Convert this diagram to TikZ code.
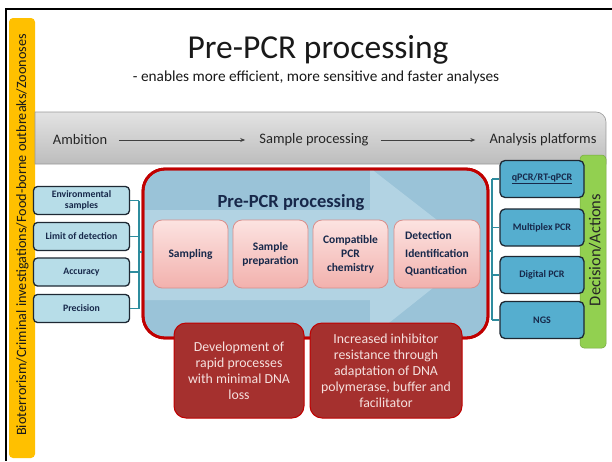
\documentclass[tikz,border=0pt]{standalone}
\usepackage{fontspec}
\setmainfont{Carlito}
\usetikzlibrary{arrows.meta}

\definecolor{barorange}{HTML}{FFC000}
\definecolor{bargreen}{HTML}{92D050}
\definecolor{navy}{HTML}{17284A}
\definecolor{lightblue}{HTML}{B7DDE8}
\definecolor{midblue}{HTML}{55AECF}
\definecolor{linkteal}{HTML}{2E8C9E}
\definecolor{panelblue}{HTML}{9AC3D8}
\definecolor{arrowblue}{HTML}{C3DFEB}
\definecolor{crimson}{HTML}{C00000}
\definecolor{pinktop}{HTML}{FCE3E1}
\definecolor{pinkbot}{HTML}{F2B1AD}
\definecolor{pinkedge}{HTML}{D98E8B}
\definecolor{darkred}{HTML}{A5302E}
\definecolor{palepink}{HTML}{F5E1DF}
\definecolor{boxedge}{HTML}{1E2833}

\tikzset{
  sidebox/.style={draw=boxedge, line width=1.3pt, fill=lightblue, rounded corners=4pt,
    minimum width=96pt, minimum height=28pt, align=center, text=navy,
    font=\bfseries\fontsize{9.8}{11}\selectfont, inner sep=1pt},
  platbox/.style={draw=boxedge, line width=1.3pt, fill=midblue, rounded corners=5pt,
    minimum width=84pt, minimum height=37pt, align=center, text=navy,
    font=\bfseries\fontsize{10}{12}\selectfont, inner sep=1pt},
  stagebox/.style={draw=pinkedge, line width=0.8pt, top color=pinktop, bottom color=pinkbot,
    rounded corners=9pt, minimum height=68pt, align=center, text=navy,
    font=\bfseries\fontsize{11.5}{14}\selectfont, inner sep=2pt},
  goalbox/.style={draw=crimson, line width=1pt, fill=darkred, rounded corners=12pt,
    minimum height=95pt, align=center, text=palepink,
    font=\fontsize{13.8}{16}\selectfont, inner sep=2pt},
  link/.style={draw=linkteal, line width=1.2pt},
  flowarrow/.style={draw=black!75, line width=0.8pt, -{Stealth[length=5pt,width=4pt]}},
  bannertext/.style={text=black!85, font=\fontsize{14.5}{16}\selectfont, inner sep=0pt}
}

\begin{document}
\begin{tikzpicture}[x=1pt,y=-1pt]
\useasboundingbox (0,0) rectangle (612,461);
\fill[white] (0,0) rectangle (612,461);

% outer frame (top and left edges)
\draw[line width=2.5pt, black] (612,9) -- (6,9) -- (6,461);

% orange side bar with rotated caption
\node[fill=barorange, rounded corners=4pt, minimum width=26pt, minimum height=440pt, inner sep=0pt] (sidebar) at (22,238) {};
\node[rotate=90, font=\fontsize{14.2}{15}\selectfont, text=black!90] (sidecaption) at (22.5,235)
  {Bioterrorism/Criminal investigations/Food-borne outbreaks/Zoonoses};

% title block
\node[font=\fontsize{33.5}{36}\selectfont, text=black!90] (title) at (318,50) {Pre-PCR processing};
\node[font=\fontsize{15.3}{17}\selectfont, text=black!90] (subtitle) at (316,77)
  {- enables more efficient, more sensitive and faster analyses};

% grey workflow banner, rounded at its top right corner
\shade[top color=black!11, bottom color=black!26, draw=black!40, line width=0.6pt]
  (35,164) -- (35,112) -- (596,112) arc[start angle=-90, end angle=0, radius=10] -- (606,164) -- cycle;
\node[bannertext] (ambition) at (80,140) {Ambition};
\node[bannertext] (sampleproc) at (314,140) {Sample processing};
\node[bannertext] (platforms) at (543,140) {Analysis platforms};
\draw[flowarrow] ([xshift=12pt]ambition.east) -- ([xshift=-14pt]sampleproc.west);
\draw[flowarrow] ([xshift=12pt]sampleproc.east) -- ([xshift=-14pt]platforms.west);

% green decision bar
\node[fill=bargreen, draw=bargreen!80!black, line width=0.5pt, rounded corners=4pt,
  minimum width=26pt, minimum height=193pt, inner sep=0pt] (decision) at (593,251.5) {};
\node[rotate=90, font=\fontsize{16.5}{18}\selectfont, text=black!85] (decisioncap) at (595,250) {Decision/Actions};

% main processing panel with the pale flow arrow inside
\node[draw=crimson, line width=2.8pt, fill=panelblue, rounded corners=22pt,
  minimum width=345pt, minimum height=169pt, inner sep=0pt] (panel) at (315.5,253.5) {};
\begin{scope}
  \clip[rounded corners=21pt] (144.5,170.5) rectangle (486.5,336.5);
  \fill[arrowblue, opacity=0.6] (144,210) -- (370,210) -- (370,168) -- (478,252)
     -- (370,338) -- (370,300) -- (144,300) -- cycle;
\end{scope}
\draw[crimson, line width=2.8pt, rounded corners=22pt] (143,169) rectangle (488,338);
\node[font=\bfseries\fontsize{18.5}{20}\selectfont, text=navy] (paneltitle) at (291,203) {Pre-PCR processing};

% process stages
\node[stagebox, minimum width=75pt] (sampling) at (190.5,254) {Sampling};
\node[stagebox, minimum width=75pt] (prep) at (270.5,254) {Sample\\preparation};
\node[stagebox, minimum width=75pt] (chem) at (350.5,254) {Compatible\\PCR\\chemistry};
\node[stagebox, minimum width=86pt, align=left, font=\bfseries\fontsize{11.5}{17.5}\selectfont] (detect) at (437,254)
  {Detection\\Identification\\Quantication};

% development goals
\node[goalbox, minimum width=130pt] (goalrapid) at (239,370.5)
  {Development of\\rapid processes\\with minimal DNA\\loss};
\node[goalbox, minimum width=152pt] (goalinhib) at (386,370.5)
  {Increased inhibitor\\resistance through\\adaptation of DNA\\polymerase, buffer and\\facilitator};

% requirement boxes on the left
\node[sidebox] (env) at (81.5,200.5) {Environmental\\samples};
\node[sidebox] (lod) at (81.5,236.5) {Limit of detection};
\node[sidebox] (acc) at (81.5,272) {Accuracy};
\node[sidebox] (prec) at (81.5,308.5) {Precision};

\coordinate (lbus) at (139,252);
\draw[link] (env.east) -- (env.east -| lbus);
\draw[link] (lod.east) -- (lod.east -| lbus);
\draw[link] (acc.east) -- (acc.east -| lbus);
\draw[link] (prec.east) -- (prec.east -| lbus);
\draw[link] (env.east -| lbus) -- (prec.east -| lbus);
\draw[link] (lbus) -- (lbus -| panel.west);

% analysis platforms on the right
\node[platbox] (qpcr) at (542,179) {\underline{qPCR/RT-qPCR}};
\node[platbox] (multi) at (542,227.5) {Multiplex PCR};
\node[platbox] (digital) at (542,275) {Digital PCR};
\node[platbox] (ngs) at (542,320) {NGS};

\coordinate (rbus) at (492,251);
\draw[link] (rbus -| panel.east) -- (rbus);
\draw[link] (qpcr.west -| rbus) -- (ngs.west -| rbus);
\draw[link] (qpcr.west -| rbus) -- (qpcr.west);
\draw[link] (multi.west -| rbus) -- (multi.west);
\draw[link] (digital.west -| rbus) -- (digital.west);
\draw[link] (ngs.west -| rbus) -- (ngs.west);
\end{tikzpicture}
\end{document}
